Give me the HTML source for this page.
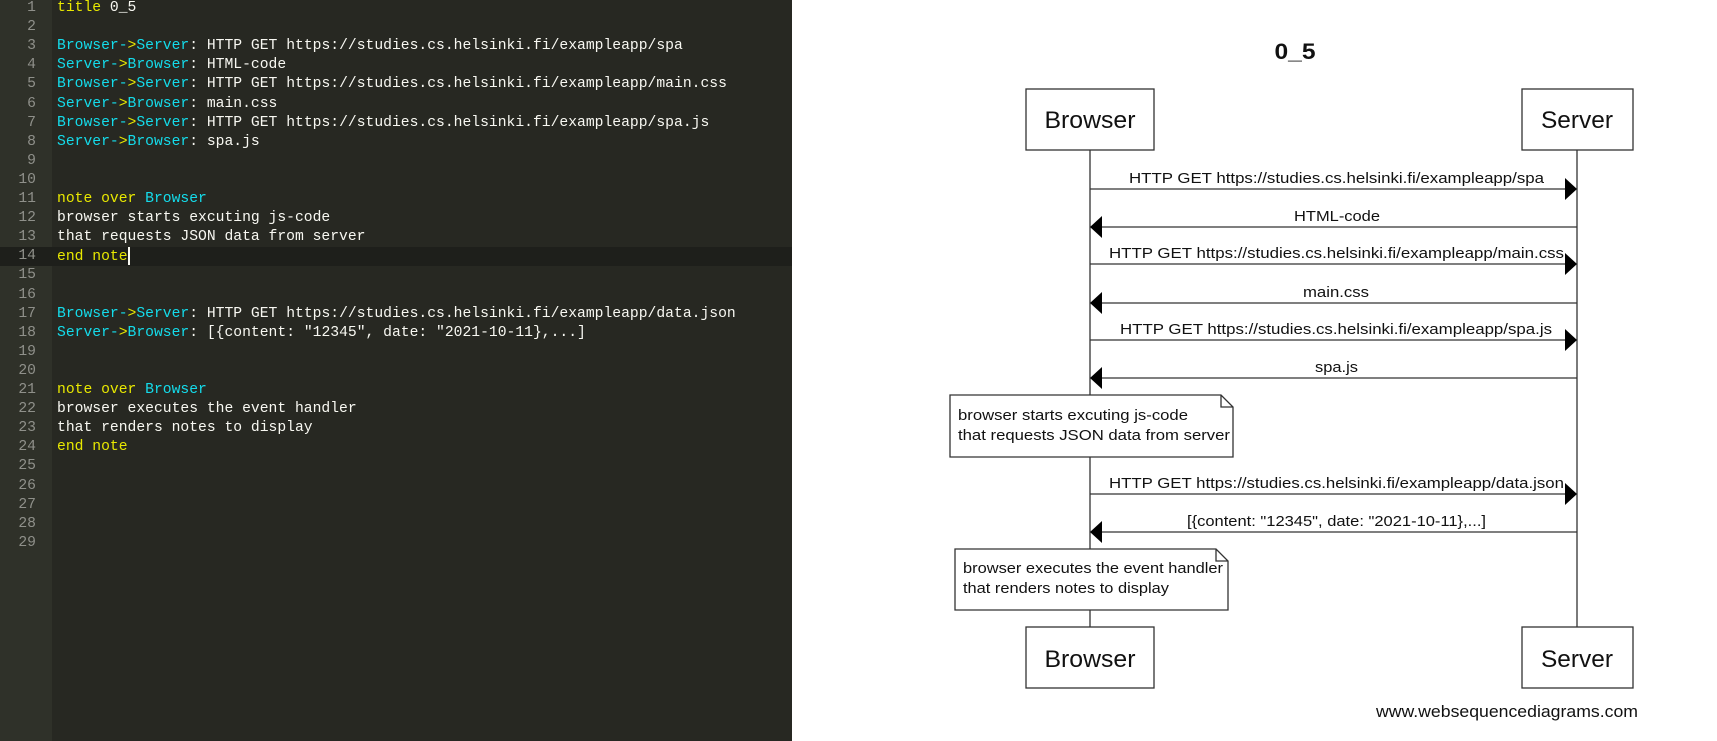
<!DOCTYPE html>
<html><head><meta charset="utf-8"><style>
html,body{margin:0;padding:0;width:1717px;height:741px;overflow:hidden;background:#fff;}
#ed{position:absolute;left:0;top:0;width:792px;height:741px;background:#272822;}
#gut{position:absolute;left:0;top:0;width:52px;height:741px;background:#2f3129;}
.act{position:absolute;left:0;width:792px;height:19px;background:#1e1f1b;}
.ln{position:absolute;left:0;height:19.1px;line-height:19.1px;font-family:"Liberation Mono",monospace;font-size:14.7px;white-space:pre;color:#f8f8f2;}
.num{position:absolute;width:36px;text-align:right;left:0;height:19.1px;line-height:19.1px;font-family:"Liberation Mono",monospace;font-size:14.7px;color:#8f908a;}
.y{color:#e8e800}.c{color:#14dceb}
svg{position:absolute;left:0;top:0;}
</style></head><body>
<div id="ed"><div id="gut"></div>
<div class="act" style="top:247px"></div>
</div>
<div style="position:absolute;left:0;top:1px">
<div class="num" style="top:-2px">1</div><div class="num" style="top:17.1px">2</div><div class="num" style="top:36.2px">3</div><div class="num" style="top:55.3px">4</div><div class="num" style="top:74.4px">5</div><div class="num" style="top:93.5px">6</div><div class="num" style="top:112.6px">7</div><div class="num" style="top:131.7px">8</div><div class="num" style="top:150.8px">9</div><div class="num" style="top:169.9px">10</div><div class="num" style="top:189px">11</div><div class="num" style="top:208.1px">12</div><div class="num" style="top:227.2px">13</div><div class="num" style="top:246.3px">14</div><div class="num" style="top:265.4px">15</div><div class="num" style="top:284.5px">16</div><div class="num" style="top:303.6px">17</div><div class="num" style="top:322.7px">18</div><div class="num" style="top:341.8px">19</div><div class="num" style="top:360.9px">20</div><div class="num" style="top:380px">21</div><div class="num" style="top:399.1px">22</div><div class="num" style="top:418.2px">23</div><div class="num" style="top:437.3px">24</div><div class="num" style="top:456.4px">25</div><div class="num" style="top:475.5px">26</div><div class="num" style="top:494.6px">27</div><div class="num" style="top:513.7px">28</div><div class="num" style="top:532.8px">29</div>
</div>
<div style="position:absolute;left:57px;top:1px">
<div class="ln" style="top:-2px"><span class="y">title</span> 0_5</div>
<div class="ln" style="top:36.2px"><span class="c">Browser-</span><span class="y">&gt;</span><span class="c">Server</span>: HTTP GET https://studies.cs.helsinki.fi/exampleapp/spa</div>
<div class="ln" style="top:55.3px"><span class="c">Server-</span><span class="y">&gt;</span><span class="c">Browser</span>: HTML-code</div>
<div class="ln" style="top:74.4px"><span class="c">Browser-</span><span class="y">&gt;</span><span class="c">Server</span>: HTTP GET https://studies.cs.helsinki.fi/exampleapp/main.css</div>
<div class="ln" style="top:93.5px"><span class="c">Server-</span><span class="y">&gt;</span><span class="c">Browser</span>: main.css</div>
<div class="ln" style="top:112.6px"><span class="c">Browser-</span><span class="y">&gt;</span><span class="c">Server</span>: HTTP GET https://studies.cs.helsinki.fi/exampleapp/spa.js</div>
<div class="ln" style="top:131.7px"><span class="c">Server-</span><span class="y">&gt;</span><span class="c">Browser</span>: spa.js</div>
<div class="ln" style="top:189px"><span class="y">note over</span> <span class="c">Browser</span></div>
<div class="ln" style="top:208.1px">browser starts excuting js-code</div>
<div class="ln" style="top:227.2px">that requests JSON data from server</div>
<div class="ln" style="top:246.3px"><span class="y">end note</span><span style="display:inline-block;width:2px;height:18px;background:#f8f8f0;vertical-align:middle"></span></div>
<div class="ln" style="top:303.6px"><span class="c">Browser-</span><span class="y">&gt;</span><span class="c">Server</span>: HTTP GET https://studies.cs.helsinki.fi/exampleapp/data.json</div>
<div class="ln" style="top:322.7px"><span class="c">Server-</span><span class="y">&gt;</span><span class="c">Browser</span>: [{content: "12345", date: "2021-10-11},...]</div>
<div class="ln" style="top:380px"><span class="y">note over</span> <span class="c">Browser</span></div>
<div class="ln" style="top:399.1px">browser executes the event handler</div>
<div class="ln" style="top:418.2px">that renders notes to display</div>
<div class="ln" style="top:437.3px"><span class="y">end note</span></div>
</div>
<svg width="1717" height="741" viewBox="0 0 1717 741" style="pointer-events:none">
<g font-family="Liberation Sans, Arial, sans-serif" fill="#111">
<text x="1295" y="59" font-size="22" font-weight="bold" text-anchor="middle" textLength="41" lengthAdjust="spacingAndGlyphs">0_5</text>
<g stroke="#333" stroke-width="1.3" fill="none">
<line x1="1090" y1="150" x2="1090" y2="627"/>
<line x1="1577" y1="150" x2="1577" y2="627"/>
<rect x="1026" y="89" width="128" height="61" fill="#fff"/>
<rect x="1522" y="89" width="111" height="61" fill="#fff"/>
<rect x="1026" y="627" width="128" height="61" fill="#fff"/>
<rect x="1522" y="627" width="111" height="61" fill="#fff"/>
<path d="M950 395 H1221 L1233 407 V457 H950 Z M1221 395 V407 H1233" fill="#fff"/>
<path d="M955 549 H1216 L1228 561 V610 H955 Z M1216 549 V561 H1228" fill="#fff"/>
<line x1="1090" y1="189" x2="1567" y2="189"/>
<line x1="1100" y1="227" x2="1577" y2="227"/>
<line x1="1090" y1="264" x2="1567" y2="264"/>
<line x1="1100" y1="303" x2="1577" y2="303"/>
<line x1="1090" y1="340" x2="1567" y2="340"/>
<line x1="1100" y1="378" x2="1577" y2="378"/>
<line x1="1090" y1="494" x2="1567" y2="494"/>
<line x1="1100" y1="532" x2="1577" y2="532"/>
</g>
<g fill="#000">
<path d="M1577 189 l-12 -11 v22 z"/><path d="M1577 264 l-12 -11 v22 z"/><path d="M1577 340 l-12 -11 v22 z"/><path d="M1577 494 l-12 -11 v22 z"/>
<path d="M1090 227 l12 -11 v22 z"/><path d="M1090 303 l12 -11 v22 z"/><path d="M1090 378 l12 -11 v22 z"/><path d="M1090 532 l12 -11 v22 z"/>
</g>
<g font-size="24" text-anchor="middle">
<text x="1090" y="128" textLength="91" lengthAdjust="spacingAndGlyphs">Browser</text>
<text x="1577" y="128" textLength="72" lengthAdjust="spacingAndGlyphs">Server</text>
<text x="1090" y="667" textLength="91" lengthAdjust="spacingAndGlyphs">Browser</text>
<text x="1577" y="667" textLength="72" lengthAdjust="spacingAndGlyphs">Server</text>
</g>
<g font-size="15">
<text x="1129" y="183" textLength="415" lengthAdjust="spacingAndGlyphs">HTTP GET https://studies.cs.helsinki.fi/exampleapp/spa</text>
<text x="1294" y="221" textLength="86" lengthAdjust="spacingAndGlyphs">HTML-code</text>
<text x="1109" y="258" textLength="455" lengthAdjust="spacingAndGlyphs">HTTP GET https://studies.cs.helsinki.fi/exampleapp/main.css</text>
<text x="1303" y="297" textLength="66" lengthAdjust="spacingAndGlyphs">main.css</text>
<text x="1120" y="334" textLength="432" lengthAdjust="spacingAndGlyphs">HTTP GET https://studies.cs.helsinki.fi/exampleapp/spa.js</text>
<text x="1315" y="372" textLength="43" lengthAdjust="spacingAndGlyphs">spa.js</text>
<text x="1109" y="488" textLength="455" lengthAdjust="spacingAndGlyphs">HTTP GET https://studies.cs.helsinki.fi/exampleapp/data.json</text>
<text x="1187" y="526" textLength="299" lengthAdjust="spacingAndGlyphs">[{content: "12345", date: "2021-10-11},...]</text>
<text x="958" y="420" textLength="230" lengthAdjust="spacingAndGlyphs">browser starts excuting js-code</text>
<text x="958" y="440" textLength="272" lengthAdjust="spacingAndGlyphs">that requests JSON data from server</text>
<text x="963" y="573" textLength="260" lengthAdjust="spacingAndGlyphs">browser executes the event handler</text>
<text x="963" y="593" textLength="206" lengthAdjust="spacingAndGlyphs">that renders notes to display</text>
<text x="1376" y="717" font-size="17" textLength="262" lengthAdjust="spacingAndGlyphs">www.websequencediagrams.com</text>
</g>
</g>
</svg>
</body></html>
